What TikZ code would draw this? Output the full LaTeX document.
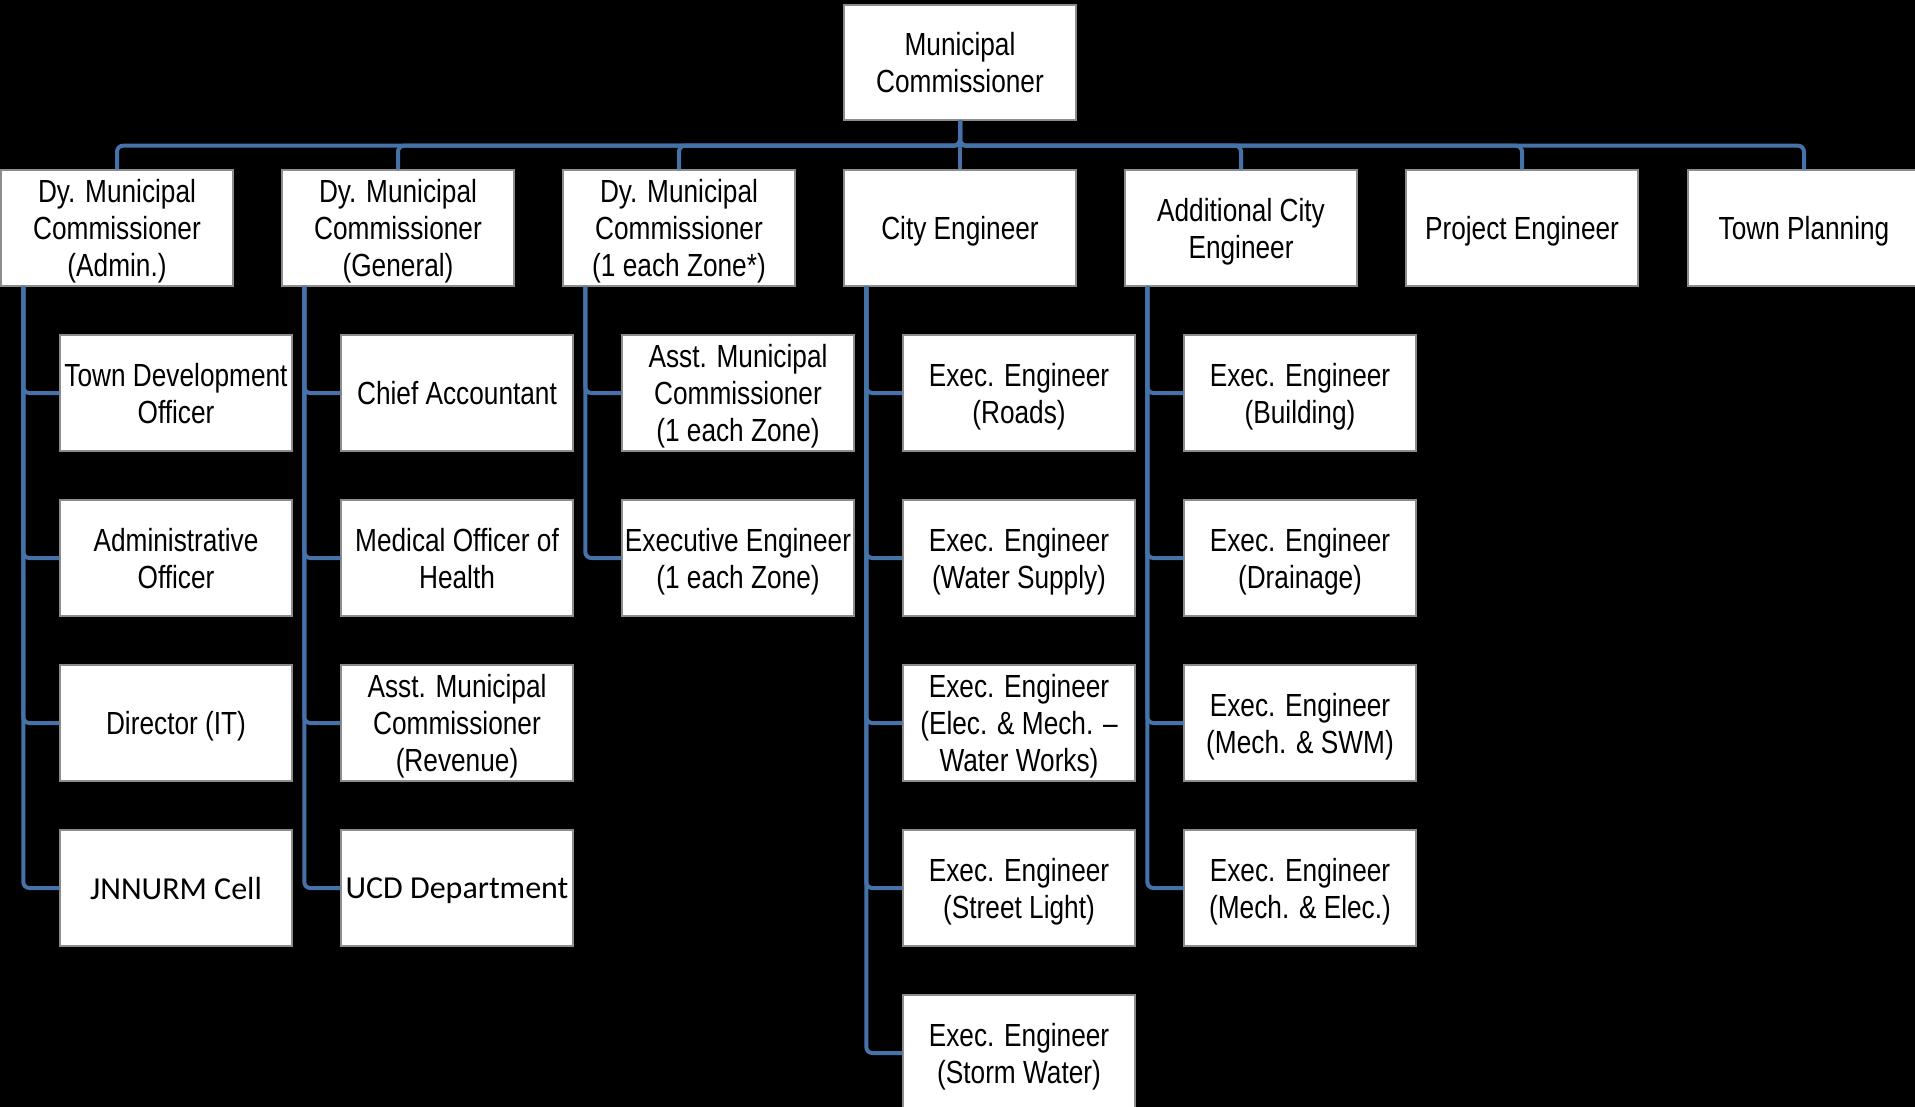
\documentclass[tikz,border=0pt]{standalone}
\usepackage{fontspec}
\setmainfont{Liberation Sans}[FakeStretch=0.82]
\newfontfamily\calfont{Carlito}
\usetikzlibrary{calc}
\definecolor{linkblue}{RGB}{70,114,170}
\definecolor{boxedge}{RGB}{140,140,140}
\begin{document}
\begin{tikzpicture}[x=0.5pt,y=-0.5pt,
  box/.style={draw=boxedge, line width=0.7pt, fill=white, minimum width=116pt, minimum height=58pt,
    inner sep=1pt, text depth=0pt, align=center, font=\fontsize{16pt}{18.5pt}\selectfont},
  calbox/.style={box, font=\calfont\fontsize{16pt}{18.5pt}\selectfont},
  conn/.style={draw=linkblue, line width=2pt, rounded corners=3pt}]
\fill[black] (0,0) rectangle (1915,1107);
\useasboundingbox (0,0) rectangle (1915,1107);

% root
\node[box, minimum height=57.5pt] (root) at (960,62.5) {Municipal\\Commissioner};

% level 2
\node[box] (a) at (117,228) {Dy. Municipal\\Commissioner\\(Admin.)};
\node[box] (b) at (398,228) {Dy. Municipal\\Commissioner\\(General)};
\node[box] (c) at (679,228) {Dy. Municipal\\Commissioner\\(1 each Zone*)};
\node[box] (d) at (960,228) {City Engineer};
\node[box] (e) at (1241,228) {Additional City\\Engineer};
\node[box] (f) at (1522,228) {Project Engineer};
\node[box] (g) at (1804,228) {Town Planning};

% level 3, column a
\node[box] (a1) at (176,393) {Town Development\\Officer};
\node[box] (a2) at (176,558) {Administrative\\Officer};
\node[box] (a3) at (176,723) {Director (IT)};
\node[calbox] (a4) at (176,888) {JNNURM Cell};
% column b
\node[box] (b1) at (457,393) {Chief Accountant};
\node[box] (b2) at (457,558) {Medical Officer of\\Health};
\node[box] (b3) at (457,723) {Asst. Municipal\\Commissioner\\(Revenue)};
\node[calbox] (b4) at (457,888) {UCD Department};
% column c
\node[box] (c1) at (738,393) {Asst. Municipal\\Commissioner\\(1 each Zone)};
\node[box] (c2) at (738,558) {Executive Engineer\\(1 each Zone)};
% column d
\node[box] (d1) at (1019,393) {Exec. Engineer\\(Roads)};
\node[box] (d2) at (1019,558) {Exec. Engineer\\(Water Supply)};
\node[box] (d3) at (1019,723) {Exec. Engineer\\(Elec. \& Mech. –\\Water Works)};
\node[box] (d4) at (1019,888) {Exec. Engineer\\(Street Light)};
\node[box] (d5) at (1019,1053) {Exec. Engineer\\(Storm Water)};
% column e
\node[box] (e1) at (1300,393) {Exec. Engineer\\(Building)};
\node[box] (e2) at (1300,558) {Exec. Engineer\\(Drainage)};
\node[box] (e3) at (1300,723) {Exec. Engineer\\(Mech. \& SWM)};
\node[box] (e4) at (1300,888) {Exec. Engineer\\(Mech. \& Elec.)};

% root connectors
\foreach \ch in {a,b,c,d,e,f,g}
  \draw[conn] (root.south) -- ++(0,25) -| (\ch.north);

% child connectors
\foreach \p/\kids in {a/{a1,a2,a3,a4}, b/{b1,b2,b3,b4}, c/{c1,c2}, d/{d1,d2,d3,d4,d5}, e/{e1,e2,e3,e4}}
  \foreach \k in \kids
    \draw[conn] ($(\p.south west)+(23,0)$) |- (\k.west);
\end{tikzpicture}
\end{document}
